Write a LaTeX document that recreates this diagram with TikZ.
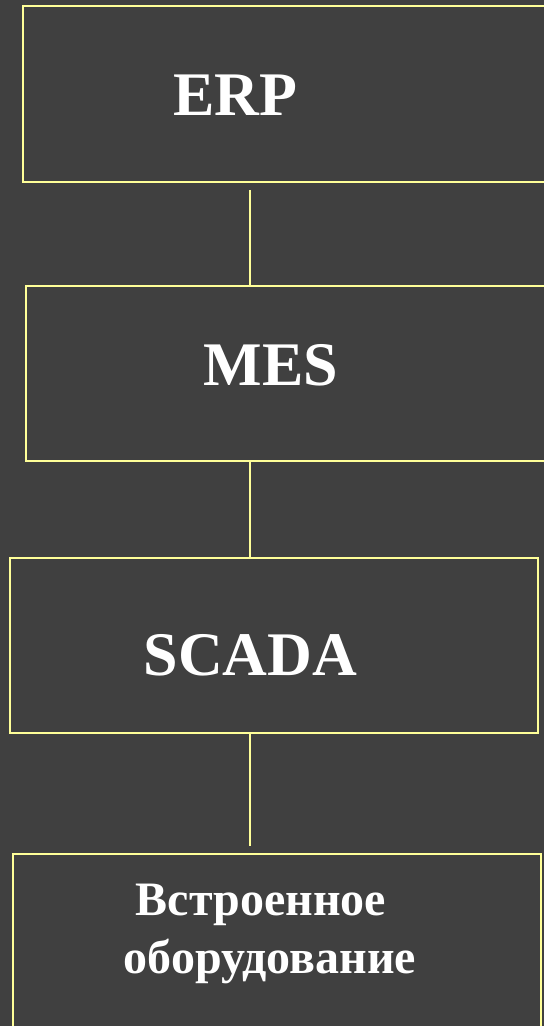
\documentclass[tikz,border=0pt]{standalone}
\usepackage{fontspec}
\setmainfont{Liberation Serif}
\definecolor{bg}{HTML}{404040}
\definecolor{ln}{HTML}{FFFF99}
\tikzset{
  box/.style={draw=ln, line width=2pt, rectangle, inner sep=0pt, outer sep=0pt},
  big/.style={text=white, font=\bfseries\fontsize{62}{62}\selectfont, anchor=base, inner sep=0pt},
  small/.style={text=white, font=\bfseries\fontsize{48}{48}\selectfont, anchor=base, inner sep=0pt},
  conn/.style={draw=ln, line width=2pt}
}
\begin{document}
\begin{tikzpicture}[x=1pt,y=-1pt]
\useasboundingbox (0,0) rectangle (544,1026);
\fill[bg] (0,0) rectangle (544,1026);
\clip (0,0) rectangle (544,1026);
\node[box, minimum width=527pt, minimum height=176pt] (erp) at (286.5,94) {};
\node[box, minimum width=524pt, minimum height=175pt] (mes) at (288,373.5) {};
\node[box, minimum width=528pt, minimum height=175pt] (scada) at (274,645.5) {};
\node[box, minimum width=528pt, minimum height=181pt] (emb) at (277,944.5) {};
\node[big] (terp) at (235.5,115) {ERP};
\node[big] (tmes) at (271,385) {MES};
\node[big] (tscada) at (250.5,675) {SCADA};
\node[small] (temb1) at (261,915) {Встроенное};
\node[small] (temb2) at (270,973) {оборудование};
\coordinate (ax) at (250,0);
\draw[conn] ([yshift=-8pt]erp.south -| ax) -- (mes.north -| ax);
\draw[conn] (mes.south -| ax) -- (scada.north -| ax);
\draw[conn] (scada.south -| ax) -- ([yshift=8pt]emb.north -| ax);
\end{tikzpicture}
\end{document}
